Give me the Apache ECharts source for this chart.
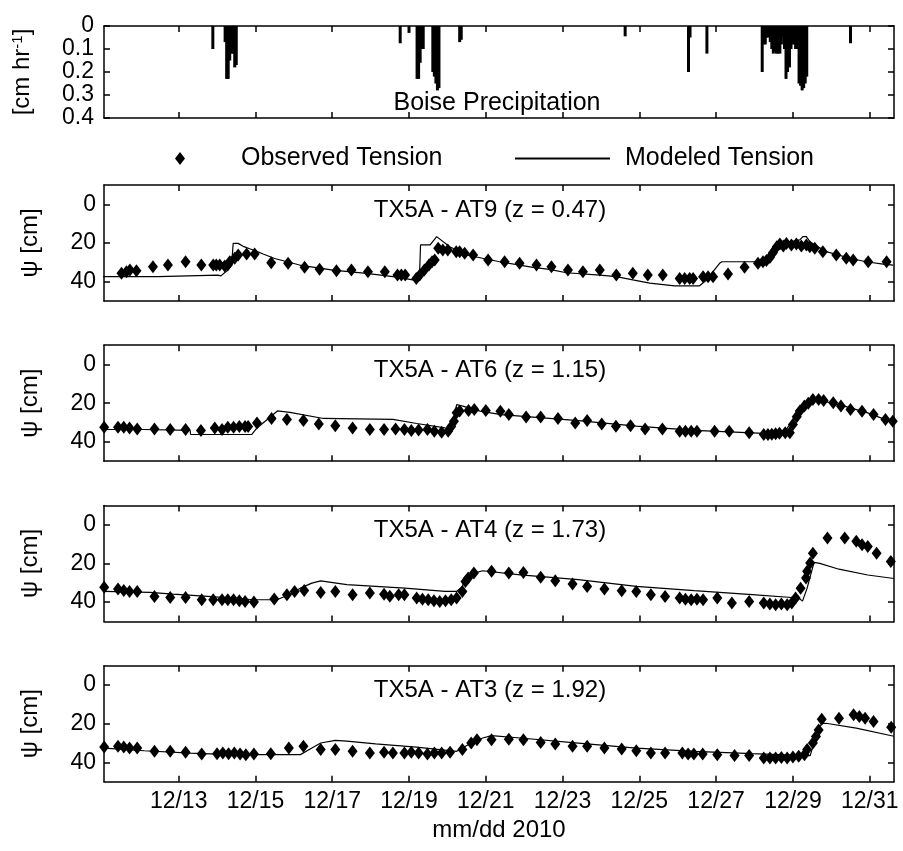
<!DOCTYPE html>
<html>
<head>
<meta charset="utf-8">
<title>Boise precipitation and soil tension</title>
<script src="https://cdn.jsdelivr.net/npm/echarts@6/dist/echarts.min.js"></script>
<style>
  html, body { margin: 0; padding: 0; background: #fff; }
  #chart { width: 903px; height: 851px; }
</style>
</head>
<body>
<div id="chart"></div>
<script>
// x is the day of December 2010 (fractional), e.g. 14.5 = 12/14 noon
const dayTicks = [13, 15, 17, 19, 21, 23, 25, 27, 29, 31];
const psiTicks = [0, 20, 40];
const precipTicks = [0, 0.1, 0.2, 0.3, 0.4];
const X_MIN = 11.055;
const X_MAX = 31.633;

// hourly rain rate, cm/hr
const precipDay = [13.89, 14.21, 14.25, 14.29, 14.33, 14.37, 14.42, 14.46, 14.50,
  18.77, 19.00, 19.21, 19.25, 19.29, 19.33, 19.37, 19.62, 19.66, 19.70, 19.74, 19.78,
  20.32, 20.36, 24.63, 26.28, 26.32, 26.76,
  28.20, 28.24, 28.28, 28.32, 28.36, 28.41, 28.45, 28.49, 28.53, 28.57, 28.61, 28.66,
  28.70, 28.74, 28.78, 28.82, 28.86, 28.91, 28.95, 28.99, 29.03, 29.07, 29.11, 29.16,
  29.20, 29.24, 29.28, 29.32, 29.36, 30.50];
const precipRate = [0.10, 0.07, 0.23, 0.23, 0.15, 0.12, 0.12, 0.18, 0.17,
  0.075, 0.03, 0.23, 0.23, 0.16, 0.10, 0.10, 0.20, 0.22, 0.25, 0.28, 0.27,
  0.07, 0.06, 0.045, 0.20, 0.05, 0.12,
  0.20, 0.08, 0.08, 0.05, 0.05, 0.07, 0.10, 0.12, 0.11, 0.12, 0.12, 0.12,
  0.08, 0.05, 0.10, 0.23, 0.20, 0.18, 0.10, 0.08, 0.08, 0.10, 0.10, 0.25,
  0.26, 0.28, 0.27, 0.25, 0.22, 0.075];

const panelTitles = ['TX5A - AT9 (z = 0.47)', 'TX5A - AT6 (z = 1.15)',
  'TX5A - AT4 (z = 1.73)', 'TX5A - AT3 (z = 1.92)'];

// [day, psi cm]
const at9Obs = [[11.03, 34.3], [11.51, 35.7], [11.64, 34.9], [11.73, 34.0], [11.9, 34.3],
  [12.33, 32.3], [12.72, 31.4], [13.18, 29.7], [13.59, 31.4], [13.9, 31.4], [13.98, 31.4],
  [14.07, 31.4], [14.2, 31.9], [14.28, 31.4], [14.33, 29.7], [14.46, 27.9], [14.55, 26.2],
  [14.77, 25.7], [14.98, 25.7], [15.41, 30.2], [15.85, 30.5], [16.28, 32.6], [16.67, 33.6],
  [17.11, 34.3], [17.5, 34.0], [17.93, 34.9], [18.37, 34.9], [18.7, 36.6], [18.8, 36.6],
  [18.9, 36.6], [19.19, 38.3], [19.28, 36.6], [19.4, 34.0], [19.52, 31.4], [19.6, 29.7],
  [19.67, 28.8], [19.76, 22.7], [19.88, 23.6], [20.01, 23.6], [20.23, 24.5], [20.32, 24.5],
  [20.45, 25.3], [20.67, 26.2], [21.06, 28.8], [21.49, 29.7], [21.88, 30.5], [22.32, 31.4],
  [22.71, 32.3], [23.14, 34.0], [23.53, 34.9], [23.97, 34.0], [24.4, 36.6], [24.83, 35.7],
  [25.22, 36.6], [25.61, 36.6], [26.05, 38.3], [26.18, 38.3], [26.31, 38.3], [26.4, 38.3],
  [26.66, 37.5], [26.79, 37.5], [26.92, 37.5], [27.31, 36.0], [27.74, 32.6], [28.09, 30.5],
  [28.22, 29.7], [28.31, 29.0], [28.4, 27.5], [28.48, 25.0], [28.58, 22.0], [28.66, 20.5],
  [28.75, 21.5], [28.83, 20.2], [28.96, 21.0], [29.09, 20.5], [29.22, 21.5], [29.35, 21.0],
  [29.44, 21.9], [29.57, 22.7], [29.78, 24.5], [30.13, 26.2], [30.39, 27.9], [30.57, 28.8],
  [30.96, 29.7], [31.44, 29.7]];
const at9Mod = [[11.03, 37.4], [12.46, 37.4], [12.47, 36.6], [14.02, 36.6], [14.1, 37.0],
  [14.25, 34.5], [14.38, 31.4], [14.42, 20.2], [14.55, 20.2], [14.7, 21.9], [14.85, 23.0],
  [15.0, 24.0], [15.2, 25.7], [15.5, 28.0], [16.15, 31.4], [17.02, 34.0], [17.89, 35.7],
  [18.58, 37.4], [19.1, 39.1], [19.27, 39.1], [19.3, 21.0], [19.55, 21.0], [19.72, 16.7],
  [20.06, 21.9], [20.5, 26.2], [21.36, 29.7], [21.88, 31.4], [22.23, 32.6], [22.66, 33.6],
  [23.1, 35.4], [23.97, 36.6], [24.4, 37.4], [24.83, 39.1], [25.27, 40.8], [25.92, 42.2],
  [26.56, 42.2], [26.75, 39.1], [27.09, 30.5], [27.15, 29.7], [28.05, 29.7], [28.15, 30.2],
  [28.31, 27.9], [28.48, 21.9], [28.74, 19.3], [28.95, 19.3], [29.18, 18.4], [29.26, 16.7],
  [29.35, 16.7], [29.44, 19.3], [29.87, 24.5], [30.48, 27.9], [30.91, 29.7], [31.35, 30.9],
  [31.61, 31.4]];

const at6Obs = [[11.06, 32.4], [11.42, 32.4], [11.57, 32.4], [11.72, 32.8], [11.92, 33.3],
  [12.37, 33.3], [12.78, 33.6], [13.18, 33.6], [13.58, 34.1], [13.94, 32.8], [14.13, 33.6],
  [14.28, 32.4], [14.43, 32.4], [14.58, 32.1], [14.73, 32.1], [14.81, 32.1], [15.04, 30.2],
  [15.42, 27.9], [15.82, 28.4], [16.25, 29.0], [16.65, 30.7], [17.08, 31.6], [17.53, 32.8],
  [17.98, 33.6], [18.35, 33.6], [18.65, 33.3], [18.88, 33.6], [19.06, 34.1], [19.25, 33.9],
  [19.48, 33.6], [19.66, 34.5], [19.85, 35.0], [20.02, 34.5], [20.1, 32.0], [20.17, 29.3],
  [20.24, 25.0], [20.32, 24.0], [20.55, 23.8], [20.7, 23.3], [21.0, 23.8], [21.38, 24.1],
  [21.6, 25.9], [22.05, 27.2], [22.43, 27.2], [22.88, 27.9], [23.33, 30.2], [23.64, 28.9],
  [24.02, 30.7], [24.39, 31.9], [24.77, 31.6], [25.15, 33.3], [25.6, 33.3], [26.05, 34.5],
  [26.2, 34.5], [26.35, 34.5], [26.5, 34.5], [26.96, 34.5], [27.34, 34.5], [27.86, 35.3],
  [28.24, 36.2], [28.35, 36.2], [28.45, 36.0], [28.55, 35.8], [28.65, 35.5], [28.8, 35.3],
  [28.92, 35.3], [29.0, 31.0], [29.1, 27.0], [29.18, 24.0], [29.3, 21.5], [29.4, 20.0],
  [29.52, 18.1], [29.67, 18.1], [29.8, 18.6], [30.05, 19.8], [30.25, 21.5], [30.5, 23.3],
  [30.8, 24.1], [31.1, 25.9], [31.41, 28.4], [31.6, 29.3]];
const at6Mod = [[11.06, 33.6], [12.1, 33.6], [13.3, 34.1], [13.31, 36.2], [14.9, 36.2],
  [15.04, 32.8], [15.34, 27.9], [15.57, 24.0], [15.9, 24.7], [16.77, 27.9], [18.58, 28.4],
  [19.2, 30.5], [19.94, 32.8], [20.1, 34.0], [20.15, 34.5], [20.24, 20.7], [20.4, 21.5],
  [20.85, 24.1], [21.4, 25.9], [23.41, 29.0], [24.92, 31.9], [26.43, 34.1], [27.94, 35.3],
  [28.54, 35.9], [28.85, 33.0], [29.15, 24.0], [29.45, 19.0], [29.6, 18.1], [30.2, 20.7],
  [30.95, 25.0], [31.63, 30.2]];

const at4Obs = [[11.06, 32.4], [11.42, 33.3], [11.57, 34.0], [11.72, 34.5], [11.92, 34.5],
  [12.37, 37.1], [12.78, 37.6], [13.18, 37.6], [13.6, 38.8], [13.9, 38.8], [14.13, 38.8],
  [14.28, 38.8], [14.43, 38.8], [14.58, 39.3], [14.73, 39.7], [14.96, 40.0], [15.49, 38.4],
  [15.82, 36.2], [16.02, 34.5], [16.27, 34.0], [16.7, 35.0], [17.08, 34.5], [17.53, 36.2],
  [17.98, 35.3], [18.35, 36.0], [18.5, 37.0], [18.73, 36.2], [18.88, 36.2], [19.2, 37.9],
  [19.35, 38.5], [19.5, 38.8], [19.65, 39.3], [19.8, 39.7], [19.95, 39.3], [20.1, 38.8],
  [20.24, 37.9], [20.39, 34.5], [20.47, 29.3], [20.54, 27.6], [20.69, 25.0], [21.15, 24.1],
  [21.6, 25.0], [21.98, 24.7], [22.43, 27.2], [22.81, 29.0], [23.26, 30.7], [23.64, 31.9],
  [24.09, 33.3], [24.54, 34.1], [24.92, 34.5], [25.3, 36.2], [25.67, 37.1], [26.05, 37.9],
  [26.2, 38.5], [26.35, 38.8], [26.5, 38.5], [26.66, 38.8], [27.03, 37.9], [27.41, 40.5],
  [27.86, 39.7], [28.24, 40.5], [28.4, 41.0], [28.55, 41.4], [28.7, 41.0], [28.85, 41.4],
  [28.97, 40.5], [29.07, 37.9], [29.2, 32.8], [29.34, 27.6], [29.37, 24.1], [29.45, 19.8],
  [29.52, 14.7], [29.9, 6.9], [30.35, 6.9], [30.65, 8.6], [30.8, 10.3], [30.95, 11.2],
  [31.18, 14.7], [31.55, 19.0]];
const at4Mod = [[11.06, 34.5], [12.25, 35.0], [12.85, 35.9], [13.76, 37.1], [14.36, 37.9],
  [14.96, 38.8], [15.56, 38.8], [15.87, 36.2], [16.17, 32.8], [16.47, 30.2], [16.7, 29.0],
  [17.38, 31.0], [18.89, 32.8], [19.94, 34.5], [20.24, 34.5], [20.39, 31.9], [20.47, 27.9],
  [20.69, 25.0], [20.92, 23.8], [21.9, 25.9], [23.41, 28.4], [24.92, 31.9], [26.43, 34.1],
  [27.94, 36.2], [29.15, 37.9], [29.25, 39.5], [29.37, 32.8], [29.55, 19.5], [29.7, 20.0],
  [30.2, 23.0], [30.95, 26.0], [31.63, 27.8]];

const at3Obs = [[11.06, 32.1], [11.42, 31.7], [11.57, 32.1], [11.72, 32.6], [11.92, 32.6],
  [12.37, 34.3], [12.78, 34.3], [13.18, 34.8], [13.6, 35.7], [14.0, 35.5], [14.15, 35.2],
  [14.3, 35.5], [14.45, 35.2], [14.6, 35.7], [14.75, 36.0], [14.96, 35.7], [15.4, 35.5],
  [15.87, 32.6], [16.25, 31.7], [16.7, 33.4], [17.08, 33.4], [17.53, 34.3], [17.98, 35.2],
  [18.35, 34.8], [18.58, 35.2], [18.88, 35.2], [19.06, 34.8], [19.25, 35.2], [19.48, 35.7],
  [19.66, 35.2], [19.85, 35.2], [20.07, 34.8], [20.39, 33.4], [20.62, 30.0], [20.77, 28.3],
  [21.15, 28.3], [21.6, 28.0], [21.98, 28.3], [22.43, 29.7], [22.81, 30.5], [23.26, 31.7],
  [23.64, 31.7], [24.09, 32.6], [24.54, 33.1], [24.92, 34.0], [25.3, 35.2], [25.67, 35.2],
  [26.12, 35.2], [26.27, 35.7], [26.42, 35.7], [26.65, 35.7], [27.03, 36.0], [27.48, 36.5],
  [27.86, 36.5], [28.24, 37.7], [28.4, 37.7], [28.55, 37.7], [28.7, 37.5], [28.85, 37.7],
  [29.0, 37.2], [29.15, 36.8], [29.3, 36.0], [29.37, 33.4], [29.52, 30.0], [29.6, 26.6],
  [29.67, 23.2], [29.75, 17.7], [30.2, 17.2], [30.58, 15.4], [30.73, 16.3], [30.88, 17.2],
  [31.1, 18.9], [31.56, 21.8]];
const at3Mod = [[11.06, 32.6], [12.1, 34.0], [13.3, 35.2], [14.36, 36.0], [16.17, 36.0],
  [16.47, 32.6], [16.7, 30.0], [17.08, 28.6], [17.38, 29.0], [18.13, 30.4], [19.19, 32.1],
  [20.24, 34.3], [20.54, 30.9], [20.92, 27.4], [21.15, 26.2], [21.9, 27.4], [23.41, 30.0],
  [24.92, 32.6], [26.43, 34.3], [27.94, 35.5], [29.3, 36.5], [29.45, 36.5], [29.6, 26.6],
  [29.75, 19.7], [29.9, 19.9], [30.65, 22.3], [31.63, 26.5]];

const observed = [at9Obs, at6Obs, at4Obs, at3Obs];
const modeled = [at9Mod, at6Mod, at4Mod, at3Mod];

const FONT = 'Liberation Sans, Arial, sans-serif';
const gridTops = [26, 185, 345.2, 505.4, 665.7];
const gridHeights = [92, 116, 116, 116, 116];

const chart = echarts.init(document.getElementById('chart'));

const frameLine = { onZero: false, lineStyle: { color: '#000', width: 1.5 } };
function tickStyle(values) {
  return { inside: true, length: 6, customValues: values, lineStyle: { color: '#000', width: 1.5 } };
}

const grids = [], xAxes = [], yAxes = [], series = [], titles = [];

gridTops.forEach((top, p) => {
  grids.push({ left: 104, right: 9, top: top, height: gridHeights[p] });
  const last = p === gridTops.length - 1;
  const xBase = { type: 'value', gridIndex: p, min: X_MIN, max: X_MAX,
    splitLine: { show: false }, axisLine: frameLine, axisTick: tickStyle(dayTicks) };
  xAxes.push(Object.assign({}, xBase, {
    position: 'bottom',
    axisLabel: { show: last, customValues: dayTicks, formatter: v => '12/' + Math.round(v),
      color: '#000', fontSize: 23, fontFamily: FONT, margin: 8 },
    name: last ? 'mm/dd 2010' : '', nameLocation: 'middle', nameGap: 37,
    nameTextStyle: { color: '#000', fontSize: 24, fontFamily: FONT }
  }));
  xAxes.push(Object.assign({}, xBase, { position: 'top', axisLabel: { show: false } }));

  const isPrecip = p === 0;
  const yTicks = isPrecip ? precipTicks : psiTicks;
  const yBase = { type: 'value', gridIndex: p, inverse: true,
    min: isPrecip ? 0 : -10, max: isPrecip ? 0.4 : 50,
    splitLine: { show: false }, axisLine: frameLine, axisTick: tickStyle(yTicks) };
  yAxes.push(Object.assign({}, yBase, {
    position: 'left',
    axisLabel: { customValues: yTicks, color: '#000', fontSize: 23, fontFamily: FONT,
      margin: isPrecip ? 10 : 8, formatter: v => isPrecip && v !== 0 ? v.toFixed(1) : String(v) },
    name: isPrecip ? '{a|[cm hr}{s|-1}{a|]}' : 'ψ [cm]',
    nameLocation: 'middle', nameRotate: 90, nameGap: isPrecip ? 70 : 62,
    nameTextStyle: { color: '#000', fontSize: 24, fontFamily: FONT,
      rich: { a: { fontSize: 24, fontFamily: FONT, color: '#000' },
              s: { fontSize: 15, fontFamily: FONT, color: '#000', verticalAlign: 'top' } } }
  }));
  yAxes.push(Object.assign({}, yBase, { position: 'right', axisLabel: { show: false } }));

  if (isPrecip) {
    series.push({ type: 'bar', name: 'Boise Precipitation', xAxisIndex: 0, yAxisIndex: 0,
      barWidth: 3, itemStyle: { color: '#000' }, silent: true,
      data: precipDay.map((d, i) => [d, precipRate[i]]) });
    titles.push({ text: 'Boise Precipitation', left: 497, top: 91, textAlign: 'center', padding: 0,
      textStyle: { color: '#000', fontSize: 25, fontWeight: 'normal', fontFamily: FONT } });
  } else {
    series.push({ type: 'line', name: 'Modeled Tension', xAxisIndex: 2 * p, yAxisIndex: 2 * p,
      data: modeled[p - 1], showSymbol: false, symbol: 'none', silent: true,
      lineStyle: { color: '#000', width: 1.2 }, itemStyle: { color: '#000' } });
    series.push({ type: 'scatter', name: 'Observed Tension', xAxisIndex: 2 * p, yAxisIndex: 2 * p,
      data: observed[p - 1], symbol: 'diamond', symbolSize: [10, 13], silent: true,
      itemStyle: { color: '#000', opacity: 1 } });
    titles.push({ text: panelTitles[p - 1], left: 490, top: top + 13, textAlign: 'center', padding: 0,
      textStyle: { color: '#000', fontSize: 24, fontWeight: 'normal', fontFamily: FONT } });
  }
});

const option = {
  animation: false,
  backgroundColor: '#fff',
  color: ['#000'],
  title: titles,
  legend: [
    { data: [{ name: 'Observed Tension', icon: 'diamond' }], left: 175, top: 146, padding: 0,
      itemWidth: 10, itemHeight: 13, selectedMode: false,
      formatter: name => '{g|}' + name,
      textStyle: { color: '#000', fontSize: 25, fontFamily: FONT, rich: { g: { width: 51 } } } },
    { data: [{ name: 'Modeled Tension', icon: 'rect' }], left: 515, top: 146, padding: 0,
      itemWidth: 95, itemHeight: 2, selectedMode: false,
      formatter: name => '{g|}' + name,
      textStyle: { color: '#000', fontSize: 25, fontFamily: FONT, rich: { g: { width: 10 } } } }
  ],
  grid: grids,
  xAxis: xAxes,
  yAxis: yAxes,
  series: series
};

chart.setOption(option);
</script>
</body>
</html>
